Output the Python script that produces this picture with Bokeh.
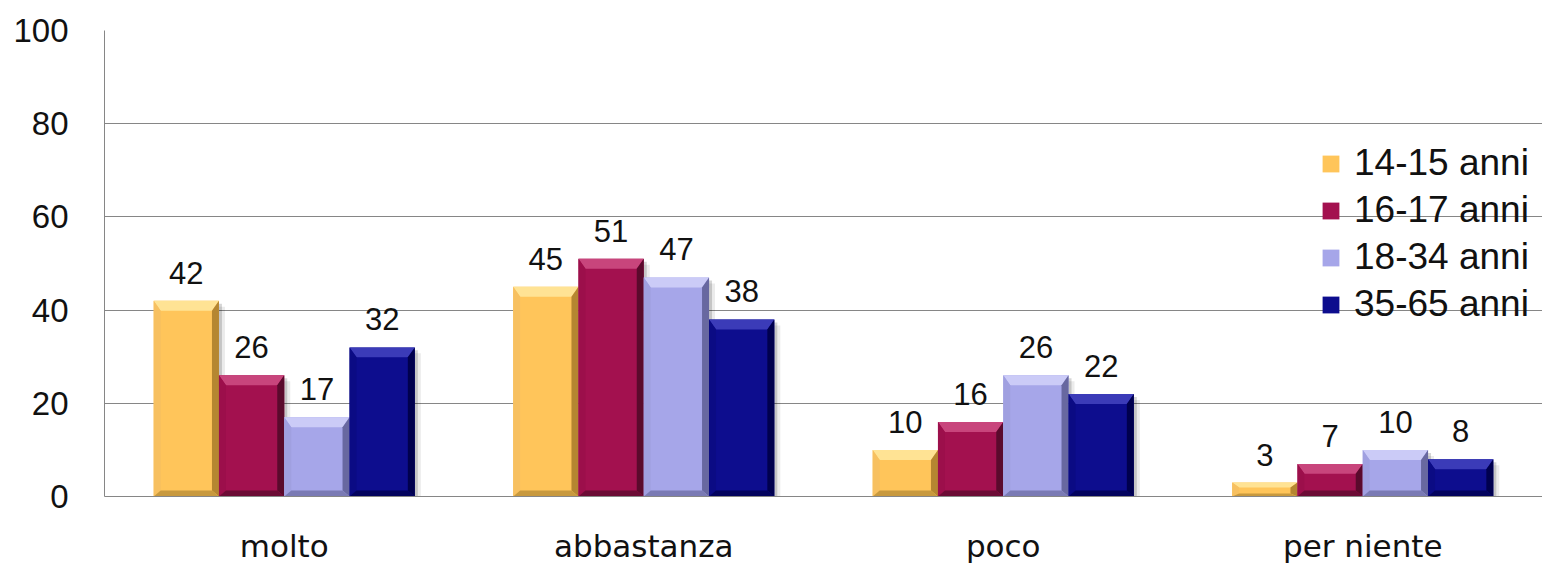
from bokeh.plotting import figure
from bokeh.models import Range1d, FixedTicker, Legend, LegendItem, ColumnDataSource
from bokeh.core.properties import value
from bokeh.embed import file_html
from bokeh.resources import INLINE

# ---- data -------------------------------------------------------------
categories = ["molto", "abbastanza", "poco", "per niente"]
series = ["14-15 anni", "16-17 anni", "18-34 anni", "35-65 anni"]
v_14_15 = [42, 45, 10, 3]
v_16_17 = [26, 51, 16, 7]
v_18_34 = [17, 47, 26, 10]
v_35_65 = [32, 38, 22, 8]
y_ticks = [0, 20, 40, 60, 80, 100]

values = [v_14_15, v_16_17, v_18_34, v_35_65]

# face, top bevel, left bevel, right bevel, bottom bevel
palettes = [
    ("#FFC55A", "#FFE394", "#F7C060", "#B58631", "#C8993E"),
    ("#A3114F", "#C8457C", "#9C0F4B", "#5A0A2C", "#6C0B35"),
    ("#A6A6E9", "#CBCBF7", "#A0A0E0", "#6868A0", "#7A7AB4"),
    ("#0D0D8E", "#3B3BB8", "#0B0B84", "#00004E", "#03035E"),
]

# ---- layout -----------------------------------------------------------
W, H = 1542, 566
B_LEFT, B_RIGHT, B_TOP, B_BOTTOM = 104, 0, 30, 69
FRAME_W = W - B_LEFT - B_RIGHT
FRAME_H = H - B_TOP - B_BOTTOM
N = len(categories)
Y_MAX = 100
PX_X = N / FRAME_W          # data units per screen pixel
PX_Y = Y_MAX / FRAME_H
BAR_W = 0.1816              # width of one bar (a category is 1 unit wide)

p = figure(
    width=W, height=H,
    x_range=Range1d(0, N), y_range=Range1d(0, Y_MAX),
    output_backend="svg", toolbar_location=None,
    min_border_left=B_LEFT, min_border_right=B_RIGHT,
    min_border_top=B_TOP, min_border_bottom=B_BOTTOM,
    background_fill_color="white", border_fill_color="white",
)
p.outline_line_color = None

# axes
p.yaxis.ticker = FixedTicker(ticks=y_ticks)
p.yaxis.major_label_text_font = "Liberation Sans"
p.yaxis.major_label_text_font_size = "33px"
p.yaxis.major_label_text_color = "#111111"
p.yaxis.major_label_standoff = 36
p.yaxis.major_tick_out = 0
p.yaxis.major_tick_in = 0
p.yaxis.major_tick_line_color = None
p.yaxis.minor_tick_line_color = None
p.yaxis.axis_line_color = "#868686"

centers = [i + 0.5 for i in range(N)]
p.xaxis.ticker = FixedTicker(ticks=centers)
p.xaxis.major_label_overrides = {c: name for c, name in zip(centers, categories)}
p.xaxis.major_label_text_font = "DejaVu Sans"
p.xaxis.major_label_text_font_size = "31px"
p.xaxis.major_label_text_color = "#111111"
p.xaxis.major_label_standoff = 31
p.xaxis.major_tick_out = 0
p.xaxis.major_tick_in = 0
p.xaxis.major_tick_line_color = None
p.xaxis.minor_tick_line_color = None
p.xaxis.axis_line_color = "#868686"

p.xgrid.grid_line_color = None
p.ygrid.ticker = FixedTicker(ticks=y_ticks)
p.ygrid.grid_line_color = "#868686"
p.ygrid.grid_line_width = 1

# ---- bevelled bars ----------------------------------------------------
legend_items = []
for j, vals in enumerate(values):
    face, c_top, c_left, c_right, c_bot = palettes[j]
    x0s, x1s, tops = [], [], []
    for i, v in enumerate(vals):
        xc = centers[i] + (j - 1.5) * BAR_W
        x0s.append(xc - BAR_W / 2)
        x1s.append(xc + BAR_W / 2)
        tops.append(v)

    # soft drop shadow on the right
    for dx, a in [(3, 0.16), (6, 0.08)]:
        p.quad(left=[x + dx * PX_X for x in x0s], right=[x + dx * PX_X for x in x1s],
               top=[t - dx * PX_Y for t in tops], bottom=[0] * N,
               fill_color="black", fill_alpha=a, line_color=None)

    face_r = p.quad(left=x0s, right=x1s, top=tops, bottom=[0] * N,
                    fill_color=face, line_color=None)

    xs, ys, cols = [], [], []
    for x0, x1, t in zip(x0s, x1s, tops):
        h_px = t / PX_Y
        s = 7 * PX_X
        tb = min(10, h_px * 0.35) * PX_Y
        bb = min(6, h_px * 0.22) * PX_Y
        # top
        xs.append([x0, x1, x1 - s, x0 + s]); ys.append([t, t, t - tb, t - tb]); cols.append(c_top)
        # left
        xs.append([x0, x0 + s, x0 + s, x0]); ys.append([t, t - tb, bb, 0]); cols.append(c_left)
        # right
        xs.append([x1, x1 - s, x1 - s, x1]); ys.append([t, t - tb, bb, 0]); cols.append(c_right)
        # bottom
        xs.append([x0, x0 + s, x1 - s, x1]); ys.append([0, bb, bb, 0]); cols.append(c_bot)
    p.patches(xs="xs", ys="ys", fill_color="c", line_color=None,
              source=ColumnDataSource(dict(xs=xs, ys=ys, c=cols)))

    # value labels
    p.text(x=[(a + b) / 2 for a, b in zip(x0s, x1s)], y=tops,
           text=[str(v) for v in vals], y_offset=-28,
           text_align="center", text_baseline="middle",
           text_font=value("Liberation Sans"), text_font_size="31px",
           text_color="#111111")

    legend_items.append(LegendItem(label=series[j], renderers=[face_r]))

legend = Legend(
    items=legend_items, location=(1216, 171),
    orientation="vertical", padding=0, margin=0, spacing=5,
    glyph_width=21, glyph_height=21, label_standoff=13,
    label_text_font="Liberation Sans", label_text_font_size="37px",
    label_text_color="#111111",
    border_line_color=None, background_fill_alpha=0,
)
p.add_layout(legend, "center")

open("out.html", "w").write(file_html(p, INLINE))
